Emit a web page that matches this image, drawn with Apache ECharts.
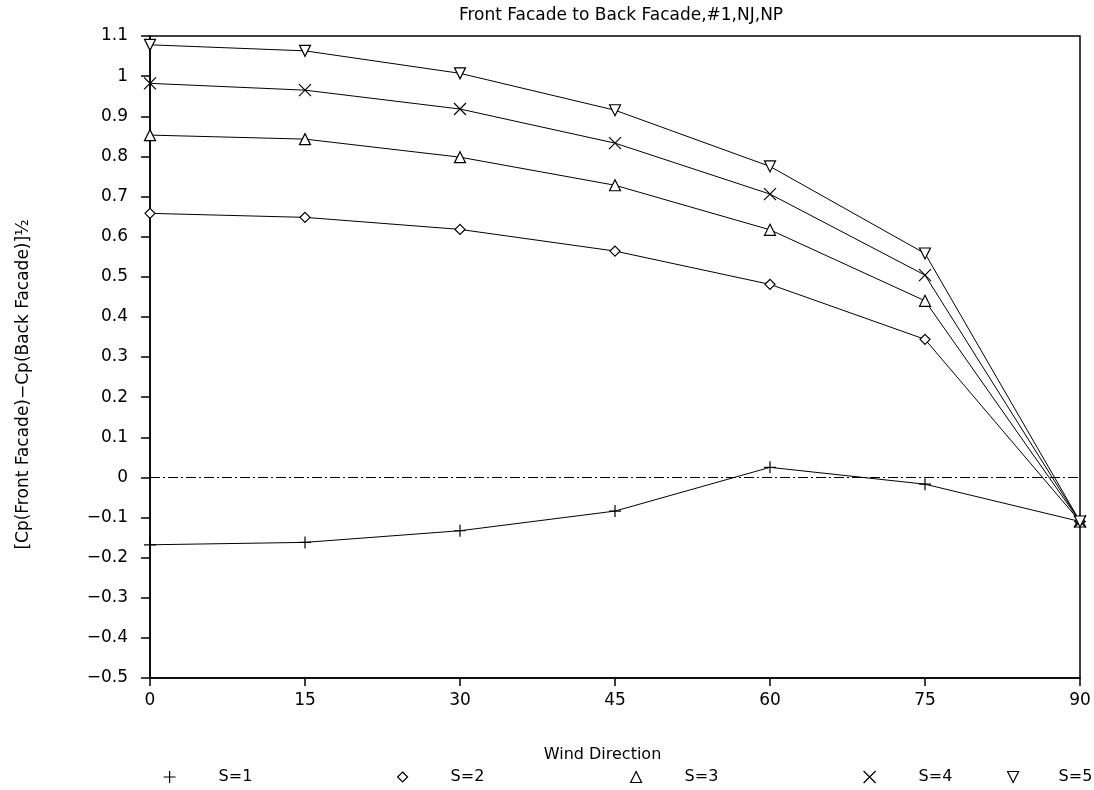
<!DOCTYPE html>
<html><head><meta charset="utf-8">
<script src="https://cdn.jsdelivr.net/npm/echarts@6/dist/echarts.min.js"></script>
<style>html,body{margin:0;padding:0;background:#fff}#c{width:1094px;height:790px}</style>
</head><body><div id="c"></div>
<script>
const windDirection = [0, 15, 30, 45, 60, 75, 90];
const s1 = [-0.168, -0.162, -0.133, -0.084, 0.025, -0.017, -0.11];
const s2 = [0.658, 0.648, 0.618, 0.564, 0.481, 0.344, -0.11];
const s3 = [0.853, 0.843, 0.798, 0.728, 0.617, 0.44, -0.11];
const s4 = [0.982, 0.965, 0.918, 0.833, 0.706, 0.504, -0.11];
const s5 = [1.078, 1.063, 1.007, 0.915, 0.775, 0.558, -0.11];
const seriesNames = ['S=1', 'S=2', 'S=3', 'S=4', 'S=5'];
const seriesData = [s1, s2, s3, s4, s5];

const symbols = [
  'path://M0,5L10,5M5,0L5,10',
  'diamond',
  'path://M5,0L10,10L0,10Z',
  'path://M0,0L10,10M10,0L0,10',
  'path://M0,0L10,0L5,10Z'
];
const symSizes = [12, 10, 11, 12, 11];
const legendLeft = [158, 392, 625, 858, 1002];
const legendGap = [38, 38, 38, 38, 35];
const font = 'DejaVu Sans';

const chart = echarts.init(document.getElementById('c'), null, {renderer: 'canvas'});
const series = seriesData.map((d, i) => ({
  name: seriesNames[i],
  type: 'line',
  data: d.map((v, j) => [windDirection[j], v]),
  symbol: symbols[i],
  symbolSize: symSizes[i],
  showAllSymbol: true,
  lineStyle: {color: '#000', width: 1},
  itemStyle: {color: '#fff', borderColor: '#000', borderWidth: 1.2},
  emphasis: {disabled: true},
  animation: false,
  z: 3,
  markLine: i === 0 ? {
    silent: true, symbol: 'none', label: {show: false},
    lineStyle: {color: '#000', width: 1, type: [10, 3, 2, 3]},
    data: [{yAxis: 0}]
  } : undefined
}));

const legends = seriesNames.map((n, i) => ({
  data: [{name: n, icon: symbols[i]}],
  left: legendLeft[i], top: 764,
  itemWidth: symSizes[i], itemHeight: symSizes[i],
  itemStyle: {color: '#fff', borderColor: '#000', borderWidth: 1.2},
  textStyle: {fontFamily: font, fontSize: 16, color: '#000', padding: [0, 0, 0, legendGap[i]]},
  selectedMode: false
}));

chart.setOption({
  animation: false,
  backgroundColor: '#fff',
  title: {
    text: 'Front Facade to Back Facade,#1,NJ,NP',
    left: 616, top: 2, textAlign: 'center',
    textStyle: {fontFamily: font, fontSize: 17, fontWeight: 'normal', color: '#000'}
  },
  legend: legends,
  grid: {left: 150, right: 14, top: 36, bottom: 112, show: true, borderColor: '#000', borderWidth: 1.5, backgroundColor: 'transparent'},
  xAxis: {
    type: 'value', min: 0, max: 90, interval: 15,
    name: 'Wind Direction', nameLocation: 'middle', nameGap: 69,
    nameTextStyle: {fontFamily: font, fontSize: 16, color: '#000', padding: [0, 25, 0, 0]},
    axisLine: {show: true, onZero: false, lineStyle: {color: '#000', width: 1.5}},
    axisTick: {show: true, inside: false, length: 8, lineStyle: {color: '#000', width: 1.5}},
    axisLabel: {fontFamily: font, fontSize: 17, color: '#000', margin: 14},
    splitLine: {show: false}
  },
  yAxis: {
    type: 'value', min: -0.5, max: 1.1, interval: 0.1,
    name: '[Cp(Front Facade)\u2212Cp(Back Facade)]\u00bd', nameLocation: 'middle', nameGap: 118,
    nameTextStyle: {fontFamily: font, fontSize: 17, color: '#000', padding: [0, 55, 0, 0]},
    axisLine: {show: true, onZero: false, lineStyle: {color: '#000', width: 1.5}},
    axisTick: {show: true, inside: false, length: 9, lineStyle: {color: '#000', width: 1.5}},
    axisLabel: {fontFamily: font, fontSize: 17, color: '#000', margin: 22,
      formatter: v => (Math.round(v * 10) / 10).toString().replace('-', '\u2212')},
    splitLine: {show: false}
  },
  series: series
});
</script></body></html>
